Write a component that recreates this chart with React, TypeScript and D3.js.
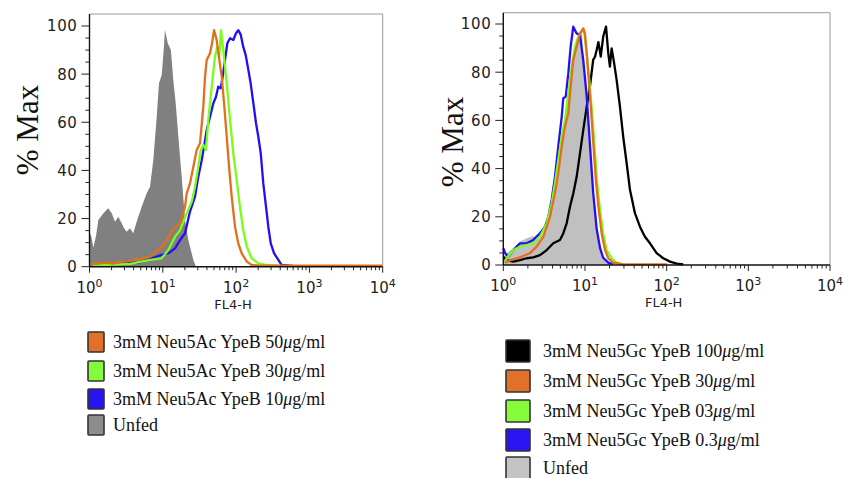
import React from "react";
import * as d3 from "d3";

type Pt = [number, number]; // [FL4-H, % Max]

// ---------- Left panel (Neu5Ac) ----------
const leftUnfed: Pt[] = [
  [1.0, 14], [1.05, 13], [1.13, 8], [1.23, 13], [1.32, 19.4], [1.53, 22], [1.8, 24.3], [2.01, 22.2],
  [2.23, 18.7], [2.47, 20.8], [2.75, 18], [2.96, 16], [3.22, 14.5], [3.57, 16], [3.96, 13.9],
  [4.4, 18.7], [5.15, 24.9], [6.03, 30.5], [6.69, 33.2], [7.42, 44.3], [8.26, 62.3], [8.87, 76.2],
  [9.66, 79.6], [10.2, 88.6], [10.7, 98.3], [11.7, 92.8], [12.9, 90], [13.9, 77.6], [15.0, 67.9],
  [16.3, 54], [18.1, 37.4], [20.1, 19.4], [22.3, 11.1], [26.1, 2.8], [28.4, 0],
];
const leftOrange: Pt[] = [
  [1.04, 1], [1.3, 1.4], [1.63, 1.7], [2.1, 1.3], [2.61, 2], [3.3, 2.2], [4.18, 2.8], [5.2, 3.3],
  [6.69, 4.2], [8.69, 6.9], [10.7, 9.7], [13.5, 15.2], [17.2, 18], [20.1, 24.9], [21.2, 30.5],
  [23.5, 34.6], [26.1, 41.5], [29.0, 48.5], [32.2, 51.3], [35.7, 66.5], [37.7, 79], [39.7, 85.9],
  [44.1, 88.7], [46.5, 92.1], [50.0, 98.3], [54.3, 94.2], [59.0, 85.9], [63.7, 79], [69.1, 66.5],
  [74.5, 54], [80.8, 40.2], [87.1, 29.1], [96.6, 16.6], [107, 9.7], [119, 5.6], [140, 2.1],
  [163, 0.7], [212, 0.4], [10000, 0.4],
];
const leftGreen: Pt[] = [
  [1.12, 0.3], [1.9, 0.8], [3.57, 1.2], [6.69, 2.8], [9.66, 3.5], [11.9, 6.9], [14.7, 12.5],
  [17.2, 15.2], [21.2, 22.2], [24.8, 27], [27.5, 33.2], [30.5, 41.5], [32.9, 48.5], [35.7, 50.6],
  [38.8, 48.5], [41.8, 61], [46.5, 74.8], [51.5, 87.3], [55.4, 91.4], [59.0, 87.3], [62.2, 98.3],
  [66.9, 90], [74.5, 76.2], [82.6, 61], [91.6, 47.1], [102, 36], [113, 24.9], [125, 15.2],
  [140, 8.3], [163, 3.5], [201, 1.4], [261, 0.7], [398, 0.3],
];
const leftBlue: Pt[] = [
  [1.9, 0.8], [3.05, 2], [4.63, 1.7], [7.06, 3.5], [9.66, 4.9], [11.9, 5.6], [14.7, 7.6],
  [17.2, 11.1], [20.1, 13.9], [23.5, 22.9], [27.5, 29.1], [30.5, 37.4], [34.0, 44.3], [36.5, 49.9],
  [39.7, 56.8], [44.1, 62.3], [48.9, 67.9], [53.2, 70.6], [57.1, 74.8], [61.7, 74.1], [65.6, 79],
  [70.6, 85.9], [75.9, 92.8], [82.6, 94.9], [91.6, 94.2], [99.7, 97], [107, 98.3], [116, 96.3],
  [125, 91.4], [135, 88], [147, 81.7], [158, 76.2], [172, 67.9], [187, 59.6], [201, 54],
  [217, 47.1], [235, 34.6], [256, 24.9], [275, 16.6], [297, 9.7], [329, 5.6], [377, 2.8],
  [419, 0.7], [597, 0.3],
];

// ---------- Right panel (Neu5Gc) ----------
const rightUnfed: Pt[] = [
  [1.0, 4], [1.1, 4.9], [1.33, 6.9], [1.6, 9.7], [1.93, 11.1], [2.33, 12], [2.68, 10.4], [3.09, 13.1],
  [3.56, 17.3], [4.09, 24.2], [4.51, 32.5], [4.94, 43.6], [5.42, 56], [5.97, 67.1], [6.55, 78.1],
  [7.19, 86.4], [7.91, 92], [8.69, 96], [9.19, 97], [9.59, 85], [10.5, 69.8], [11.0, 60.2],
  [11.5, 49.1], [12.1, 40.8], [12.6, 32.5], [13.3, 22.8], [13.9, 14.5], [15.3, 7.6], [16.7, 3.4],
  [19.3, 1.4], [22.2, 0],
];
const rightBlack: Pt[] = [
  [1.0, 3.4], [1.1, 2], [1.33, 1.4], [1.6, 2], [1.93, 2.8], [2.33, 3.2], [2.81, 4.1], [3.4, 6.2],
  [4.09, 9], [4.94, 10.4], [5.42, 13.1], [5.97, 17.3], [6.55, 24.2], [7.19, 29.7], [7.91, 36.6],
  [8.69, 46.3], [9.53, 56], [10.5, 65.7], [11.5, 74], [12.6, 85.1], [13.3, 86.5], [13.9, 89.2],
  [14.6, 92.5], [15.6, 86.5], [16.7, 94.7], [18.1, 98.9], [19.3, 87.8], [20.2, 82.3], [21.2, 89.9],
  [22.6, 84.4], [24.4, 76.8], [26.8, 65.7], [29.4, 53.2], [32.4, 42.2], [35.6, 31.1], [40.9, 21.5],
  [47.1, 15.9], [54.2, 11.7], [62.5, 9], [75.5, 4.9], [90.8, 2.8], [110, 1.4], [133, 0.6], [160, 0.3],
];
const rightOrange: Pt[] = [
  [1.05, 1], [1.21, 2], [1.6, 3.2], [2.12, 4.9], [2.56, 7.6], [3.09, 11.7], [3.73, 20], [4.29, 29.7],
  [4.71, 38], [5.19, 49.1], [5.69, 57.4], [6.25, 62.9], [6.68, 74], [7.19, 85.1], [7.91, 90.6],
  [8.69, 96.1], [9.53, 98.2], [10.0, 96], [10.5, 87.8], [11.3, 74], [12.1, 60.2], [12.9, 46.3],
  [13.6, 35.3], [14.6, 24.2], [16.0, 13.1], [17.6, 6.2], [19.3, 2.8], [22.2, 1], [29.4, 0.3],
  [101, 0.3],
];
const rightGreen: Pt[] = [
  [1.05, 1], [1.1, 2.8], [1.33, 6.2], [1.6, 7.6], [1.93, 8.3], [2.33, 9], [2.81, 11.7], [3.4, 17.3],
  [3.91, 25.6], [4.29, 33.9], [4.71, 43.6], [5.19, 53.2], [5.69, 60.2], [6.25, 71.2], [6.87, 82.3],
  [7.54, 90.6], [8.28, 94.7], [9.12, 96.8], [9.72, 97.5], [10.5, 87.8], [11.5, 74], [12.4, 60.2],
  [13.3, 46.3], [14.1, 33.9], [15.3, 22.8], [16.7, 13.1], [18.4, 6.2], [21.2, 2.8], [24.4, 1],
  [29.4, 0.3],
];
const rightBlue: Pt[] = [
  [1.0, 7], [1.05, 5], [1.15, 3.4], [1.33, 6.2], [1.6, 9], [1.93, 9], [2.33, 10.4], [2.81, 13.1],
  [3.24, 15.9], [3.56, 20], [3.91, 27], [4.29, 36.6], [4.71, 49.1], [5.19, 61.5], [5.42, 69.2],
  [5.81, 69.8], [6.25, 79.5], [6.68, 90.6], [7.19, 98.9], [7.91, 96.1], [8.69, 95.4], [9.53, 85],
  [10.5, 70], [11.5, 50], [12.6, 30], [13.9, 15], [15.3, 7], [16.7, 3], [19.3, 1], [22.2, 0.3],
];

// ---------- Legends ----------
const leftLegendLabels = [
  ["3mM Neu5Ac YpeB 50", "g/ml"],
  ["3mM Neu5Ac YpeB 30", "g/ml"],
  ["3mM Neu5Ac YpeB 10", "g/ml"],
  ["Unfed", ""],
];
const leftLegendColors = ["#e0702a", "#84fc3c", "#2a14f0", "#8c8c8c"];
const rightLegendLabels = [
  ["3mM Neu5Gc YpeB 100", "g/ml"],
  ["3mM Neu5Gc YpeB 30", "g/ml"],
  ["3mM Neu5Gc YpeB 03", "g/ml"],
  ["3mM Neu5Gc YpeB 0.3", "g/ml"],
  ["Unfed", ""],
];
const rightLegendColors = ["#000000", "#e0702a", "#84fc3c", "#2a14f0", "#c4c4c4"];

const xDecades = [1, 10, 100, 1000, 10000];
const xDecadeExp = ["0", "1", "2", "3", "4"];

const C = {
  orange: "#e0701e",
  green: "#7cfc1c",
  blue: "#2210f4",
  black: "#000000",
  darkGray: "#808080",
  lightGray: "#c0c0c0",
};

interface Box { x0: number; x1: number; y0: number; y100: number; top: number; labelX: number; labelY: number; }

function Panel({ box, fillData, fillColor, lines }: { box: Box; fillData: Pt[]; fillColor: string; lines: { data: Pt[]; color: string }[] }) {
  const x = d3.scaleLog().domain([1, 10000]).range([box.x0, box.x1]);
  const y = d3.scaleLinear().domain([0, 100]).range([box.y0, box.y100]);
  const line = d3.line<Pt>().x((d) => x(d[0])).y((d) => y(d[1]));
  const area = d3.area<Pt>().x((d) => x(d[0])).y0(y(0)).y1((d) => y(d[1]));
  const xt = x.ticks();
  const yt = y.ticks(20);
  const tickFont = "DejaVu Sans, Verdana, sans-serif";
  return (
    <g>
      <path d={area(fillData) || ""} fill={fillColor} stroke="none" />
      {lines.map((l, i) => (
        <path key={i} d={line(l.data) || ""} fill="none" stroke={l.color} strokeWidth={2.3} strokeLinejoin="round" />
      ))}
      {/* frame */}
      <line x1={box.x0} x2={box.x1} y1={box.top} y2={box.top} stroke="#9a9a9a" strokeWidth={1} />
      <line x1={box.x1} x2={box.x1} y1={box.top} y2={box.y0} stroke="#9a9a9a" strokeWidth={1} />
      <line x1={box.x0} x2={box.x0} y1={box.top} y2={box.y0} stroke="#111" strokeWidth={1.4} />
      <line x1={box.x0} x2={box.x1} y1={box.y0} y2={box.y0} stroke="#111" strokeWidth={1.4} />
      {/* y ticks */}
      {yt.map((v) => {
        const major = v % 20 === 0;
        return <line key={"y" + v} x1={box.x0 - (major ? 8 : 4)} x2={box.x0} y1={y(v)} y2={y(v)} stroke="#222" strokeWidth={1} />;
      })}
      {yt.filter((v) => v % 20 === 0).map((v) => (
        <text key={"yl" + v} x={box.x0 - 12} y={y(v)} dy="0.36em" textAnchor="end" fontFamily={tickFont} fontSize={15} letterSpacing={0.6} fill="#222">{v}</text>
      ))}
      {/* x ticks */}
      {xt.map((v, i) => {
        const major = xDecades.includes(v);
        return <line key={"x" + i} x1={x(v)} x2={x(v)} y1={box.y0} y2={box.y0 + (major ? 6 : 3.5)} stroke="#222" strokeWidth={1} />;
      })}
      {xDecades.map((v, i) => (
        <text key={"xl" + i} x={x(v)} y={box.y0 + 26} textAnchor="middle" fontFamily={tickFont} fontSize={15} fill="#222">
          10<tspan dy={-6} fontSize={11}>{xDecadeExp[i]}</tspan>
        </text>
      ))}
      <text x={(x(10) + x(1000)) / 2 - 3} y={box.y0 + 42} textAnchor="middle" fontFamily={tickFont} fontSize={13} fill="#222">FL4-H</text>
      <text transform={`translate(${box.labelX},${box.labelY}) rotate(-90)`} textAnchor="middle" dy="0.35em" fontFamily="Liberation Serif, Times New Roman, serif" fontSize={31} fill="#111">% Max</text>
    </g>
  );
}

function Legend({ labels, colors, rows, boxX, boxW, boxH, textX }: { labels: string[][]; colors: string[]; rows: number[]; boxX: number; boxW: number; boxH: number; textX: number }) {
  return (
    <g>
      {labels.map((lab, i) => (
        <g key={i}>
          <rect x={boxX} y={rows[i] - boxH / 2} width={boxW} height={boxH} fill={colors[i]} stroke="#333" strokeWidth={1.6} rx={1} />
          <text x={textX} y={rows[i]} dy="0.33em" fontFamily="Liberation Serif, Times New Roman, serif" fontSize={18} fill="#111">
            {lab[0]}
            {lab[1] ? <tspan fontStyle="italic">μ</tspan> : null}
            {lab[1]}
          </text>
        </g>
      ))}
    </g>
  );
}

export default function App() {
  const leftBox: Box = { x0: 89.5, x1: 382.7, y0: 266.7, y100: 26, top: 14, labelX: 27, labelY: 130 };
  const rightBox: Box = { x0: 503.3, x1: 830, y0: 265, y100: 24, top: 12.7, labelX: 452, labelY: 142 };
  return (
    <svg width={845} height={478} style={{ position: "absolute", left: 0, top: 0, background: "#fff" }}>
      <rect width={845} height={478} fill="#fff" />
      <Panel
        box={leftBox}
        fillData={leftUnfed}
        fillColor={C.darkGray}
        lines={[
          { data: leftBlue, color: C.blue },
          { data: leftGreen, color: C.green },
          { data: leftOrange, color: C.orange },
        ]}
      />
      <Panel
        box={rightBox}
        fillData={rightUnfed}
        fillColor={C.lightGray}
        lines={[
          { data: rightBlack, color: C.black },
          { data: rightBlue, color: C.blue },
          { data: rightGreen, color: C.green },
          { data: rightOrange, color: C.orange },
        ]}
      />
      <Legend labels={leftLegendLabels} colors={leftLegendColors} rows={[342, 371, 399, 425]} boxX={88} boxW={16} boxH={20} textX={113} />
      <Legend labels={rightLegendLabels} colors={rightLegendColors} rows={[351, 381, 411, 440, 468]} boxX={506} boxW={24} boxH={22} textX={543} />
    </svg>
  );
}
